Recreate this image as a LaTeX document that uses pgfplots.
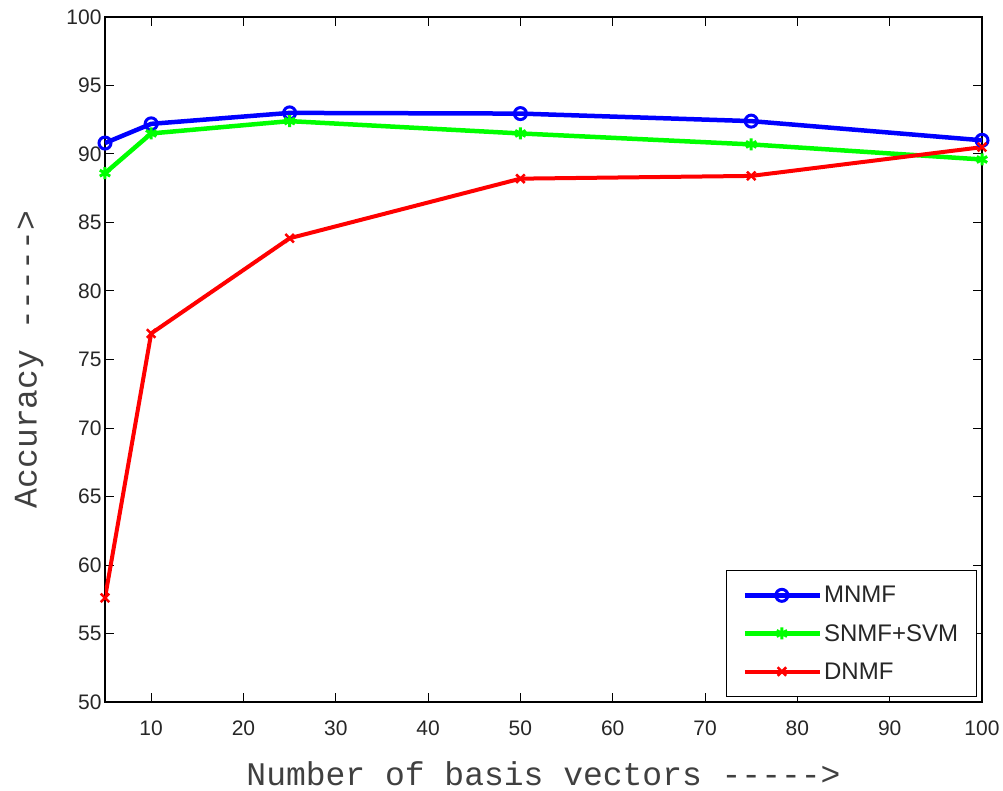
\documentclass[border=0pt]{standalone}
\usepackage{fontspec}
\setmainfont{Liberation Sans}
\newfontfamily\labelfont{Liberation Mono}
\usepackage{pgfplots}
\pgfplotsset{compat=1.18}
\begin{document}
\begin{tikzpicture}
\begin{axis}[
  scale only axis, width=877pt, height=685pt,
  xmin=5, xmax=100, ymin=50, ymax=100,
  xtick={10,20,...,100}, ytick={50,55,...,100},
  tick align=inside, major tick length=9pt,
  tick style={black, line width=1pt},
  axis line style={line width=1.2pt},
  tick label style={font=\fontsize{21}{24}\selectfont, text=black!85},
  /pgf/number format/assume math mode=true,
  xticklabel style={yshift=-15pt},
  xlabel={Number of basis vectors ----->},
  ylabel={Accuracy ----->},
  label style={font=\labelfont\fontsize{33}{36}\selectfont, text=black!75},
  xlabel style={yshift=-19pt},
  ylabel style={yshift=16pt},
  legend style={at={(0.994,0.007)}, anchor=south east, font=\fontsize{24}{28}\selectfont,
    draw=black, line width=1.2pt, row sep=16pt, inner xsep=16pt, inner ysep=14pt,
    nodes={text=black!85}},
  legend cell align=left,
  legend image code/.code={\draw[mark repeat=2,mark phase=2,#1] plot coordinates {(0pt,0pt)(37pt,0pt)(75pt,0pt)};},
]
\addplot[blue, line width=4.5pt, mark=o, mark size=6pt, mark options={line width=3pt}] coordinates {
(5,90.8) (10,92.2) (25,93.0) (50,92.95) (75,92.4) (100,91.0)};
\addlegendentry{MNMF}
\addplot[green, line width=4.5pt, mark=asterisk, mark size=6pt, mark options={line width=3pt}] coordinates {
(5,88.6) (10,91.5) (25,92.4) (50,91.5) (75,90.7) (100,89.6)};
\addlegendentry{SNMF+SVM}
\addplot[red, line width=4pt, mark=x, mark size=6pt, mark options={line width=2.5pt}] coordinates {
(5,57.6) (10,76.9) (25,83.85) (50,88.2) (75,88.4) (100,90.5)};
\addlegendentry{DNMF}
\end{axis}
\path ([shift={(-105pt,-88pt)}]current axis.south west) rectangle ([shift={(21pt,17pt)}]current axis.north east);
\end{tikzpicture}
\end{document}
